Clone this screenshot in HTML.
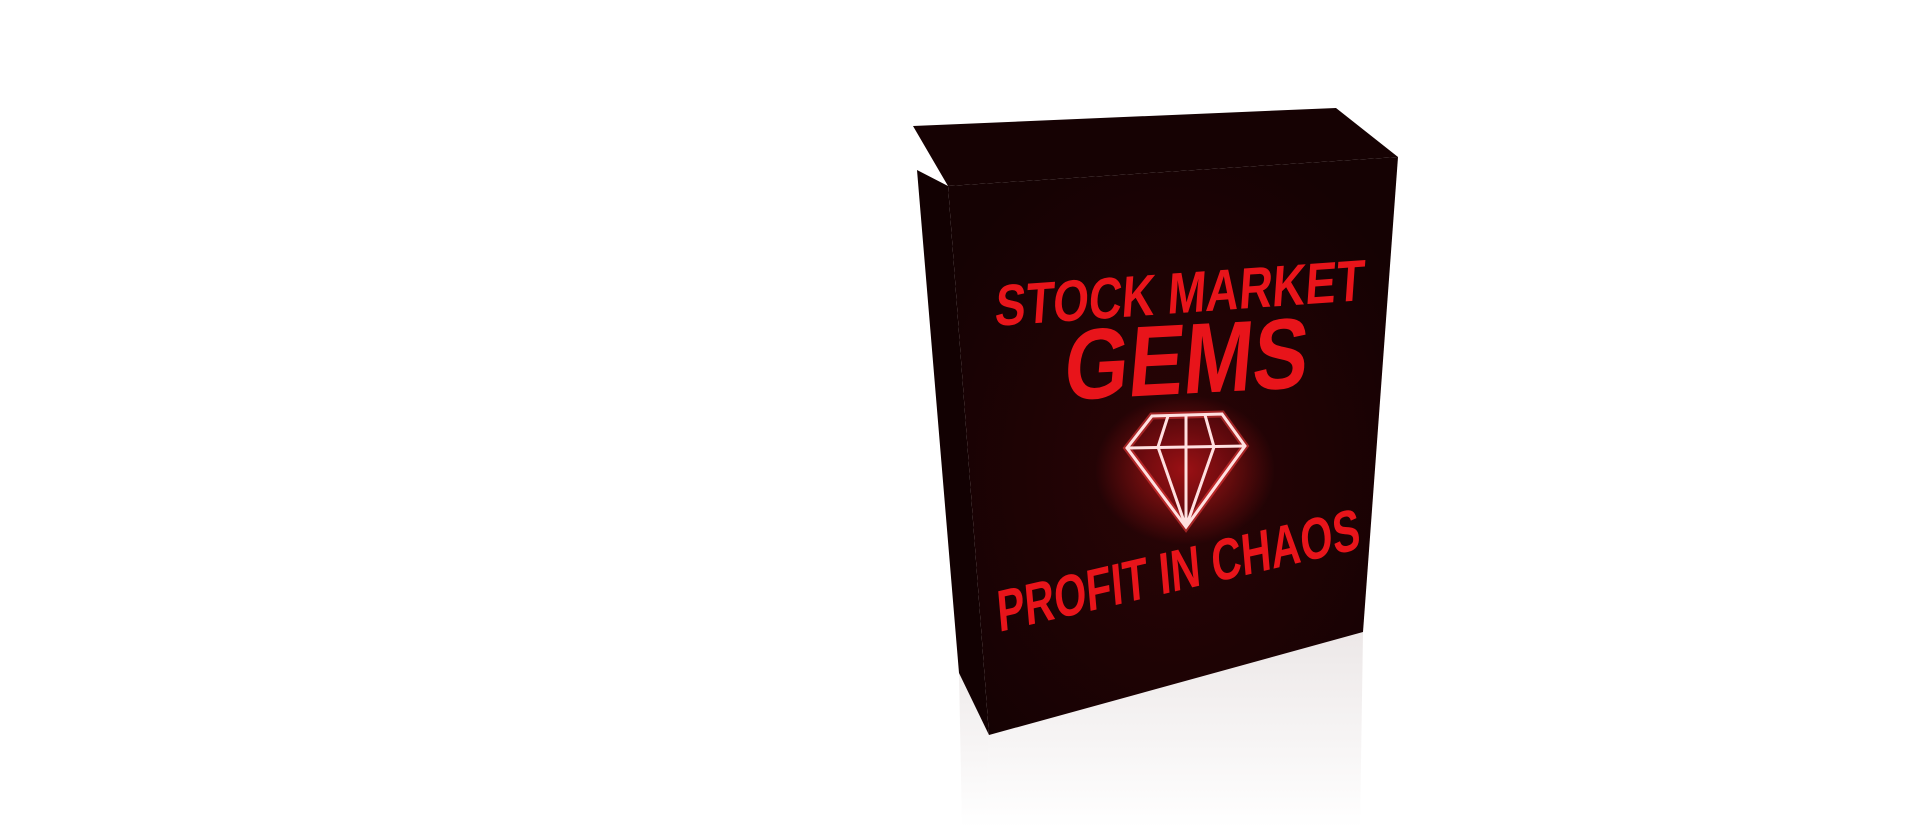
<!DOCTYPE html>
<html><head><meta charset="utf-8"><style>
html,body{margin:0;padding:0;background:#fff;width:1920px;height:828px;overflow:hidden}
svg{display:block}
text{font-family:"Liberation Sans",sans-serif;font-weight:bold}
</style></head><body>
<svg width="1920" height="828" viewBox="0 0 1920 828">
<defs>
<linearGradient id="refl" x1="0" y1="0" x2="0" y2="1">
<stop offset="0" stop-color="#e0d8d8"/><stop offset="1" stop-color="#fff"/>
</linearGradient>
<radialGradient id="front" cx="0.5" cy="0.55" r="0.6">
<stop offset="0" stop-color="#2a0406"/><stop offset="1" stop-color="#150203"/>
</radialGradient>
<radialGradient id="glow" cx="0.5" cy="0.5" r="0.5">
<stop offset="0" stop-color="#ff2020" stop-opacity="0.6"/><stop offset="1" stop-color="#ff2020" stop-opacity="0"/>
</radialGradient>
</defs>
<polygon points="989,735 1363,632 1360,828 985,828" fill="url(#refl)" opacity="0.6"/>
<polygon points="959,673 989,735 985,828 962,828" fill="url(#refl)" opacity="0.5"/>
<polygon points="913,126 1336,108 1398,157 948,186" fill="#160203"/>
<polygon points="917,170 948,186 989,735 959,673" fill="#120102"/>
<polygon points="948,186 1398,157 1363,632 989,735" fill="url(#front)"/>
<ellipse cx="1185" cy="470" rx="90" ry="75" fill="url(#glow)"/>
<text x="0" y="0" font-size="58" fill="#e8141a" transform="translate(994,326) rotate(-4) skewX(-8)" textLength="370" lengthAdjust="spacingAndGlyphs">STOCK MARKET</text>
<text x="0" y="0" font-size="100" fill="#e8141a" transform="translate(1062,400) rotate(-3) skewX(-8)" textLength="244" lengthAdjust="spacingAndGlyphs">GEMS</text>
<g fill="none" stroke="#ffe0e0" stroke-width="3">
<polygon points="1152,416 1222,414 1245,446 1186,527 1127,448" fill="#7a0812" fill-opacity="0.6" stroke="#ff4040" stroke-width="7" opacity="0.5"/>
<polygon points="1152,416 1222,414 1245,446 1186,527 1127,448"/>
<line x1="1127" y1="448" x2="1245" y2="446"/>
<line x1="1168" y1="416" x2="1158" y2="447"/><line x1="1186" y1="415" x2="1186" y2="447"/><line x1="1205" y1="415" x2="1214" y2="447"/>
<line x1="1158" y1="447" x2="1186" y2="527"/><line x1="1186" y1="447" x2="1186" y2="527"/><line x1="1214" y1="447" x2="1186" y2="527"/>
</g>
<text x="0" y="0" font-size="58" fill="#e8141a" transform="translate(999,632) rotate(-13) skewX(-8)" textLength="372" lengthAdjust="spacingAndGlyphs">PROFIT IN CHAOS</text>
</svg>
</body></html>
